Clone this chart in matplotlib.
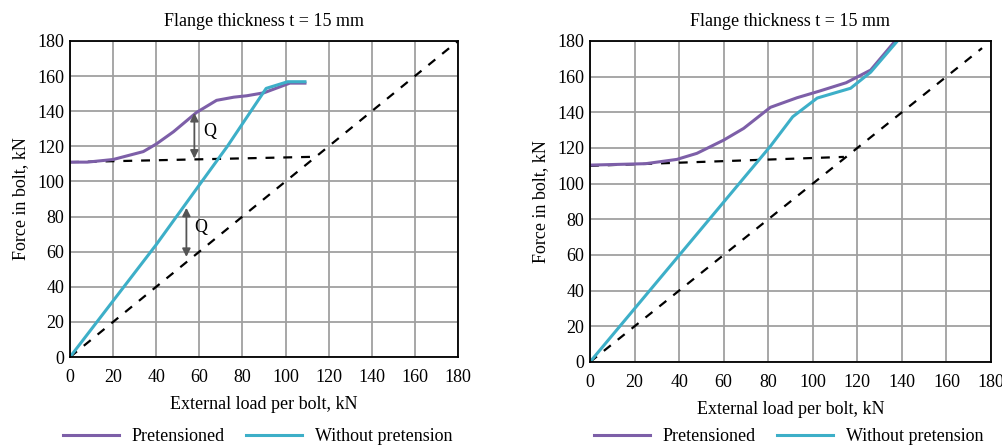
import numpy as np
import matplotlib.pyplot as plt

plt.rcParams['font.family'] = ['Liberation Serif', 'DejaVu Serif']
plt.rcParams['font.size'] = 13

# left panel data
pre_x1 = [0, 8, 20, 34, 40, 48, 58.7, 68, 76, 82, 90, 102, 109]
pre_y1 = [111, 111, 112.5, 117, 121.3, 128.3, 139.3, 146.2, 148, 148.8, 150.5, 156, 156]
nop_x1 = [0, 40, 60, 73, 91, 101, 109]
nop_y1 = [0, 64, 98, 120, 153, 156.8, 156.8]
ref_x1 = [0, 112]
ref_y1 = [111, 114]

# right panel data
pre_x2 = [0, 25, 39, 48, 60, 69, 81, 93, 103, 115, 126, 137]
pre_y2 = [110.4, 111.2, 113.6, 117, 124.4, 131, 142.8, 148.2, 151.9, 156.6, 163.7, 180]
nop_x2 = [0, 81, 91, 102, 117, 126, 138]
nop_y2 = [0, 121, 137.5, 148, 153.5, 162.5, 180]
ref_x2 = [0, 114]
ref_y2 = [110, 115]

purple = '#7D5FA8'
cyan = '#3DAFC8'

fig = plt.figure(figsize=(10.03, 4.48), dpi=100)
ax1 = fig.add_axes([0.0698, 0.2031, 0.3868, 0.7054])
ax2 = fig.add_axes([0.5882, 0.1920, 0.3998, 0.7165])


def style(ax):
    ax.set_xlim(0, 180)
    ax.set_ylim(0, 180)
    ax.set_xticks(np.arange(0, 181, 20))
    ax.set_yticks(np.arange(0, 181, 20))
    ax.grid(True, color='#A0A0A0', linewidth=1.3)
    ax.set_axisbelow(True)
    for s in ax.spines.values():
        s.set_color('black')
        s.set_linewidth(1.3)
    ax.tick_params(length=0)
    ax.tick_params(axis='x', pad=8.5)
    ax.tick_params(axis='y', pad=4)
    ax.set_title('Flange thickness t = 15 mm', fontsize=13, pad=11)
    ax.set_xlabel('External load per bolt, kN', labelpad=7)
    ax.set_ylabel('Force in bolt, kN', labelpad=6)


for ax in (ax1, ax2):
    style(ax)

ax1.plot(ref_x1, ref_y1, 'k--', lw=1.6, dashes=(4, 4))
ax1.plot([0, 180], [0, 180], 'k--', lw=1.6, dashes=(4, 4))
ax1.plot(pre_x1, pre_y1, color=purple, lw=2.2, label='Pretensioned')
ax1.plot(nop_x1, nop_y1, color=cyan, lw=2.2, label='Without pretension')

arrow = dict(arrowstyle='<|-|>', color='#555555', lw=1.3, mutation_scale=12,
             shrinkA=0, shrinkB=0)
ax1.annotate('', xy=(57.7, 139), xytext=(57.7, 113), arrowprops=arrow)
ax1.text(62, 126, 'Q', fontsize=13)
ax1.annotate('', xy=(54, 85), xytext=(54, 57), arrowprops=arrow)
ax1.text(57.5, 71, 'Q', fontsize=13)

ax2.plot(ref_x2, ref_y2, 'k--', lw=1.6, dashes=(4, 4))
ax2.plot([0, 176], [0, 176], 'k--', lw=1.6, dashes=(4, 4))
ax2.plot(pre_x2, pre_y2, color=purple, lw=2.2, label='Pretensioned')
ax2.plot(nop_x2, nop_y2, color=cyan, lw=2.2, label='Without pretension')

for ax, cx in ((ax1, 0.257), (ax2, 0.786)):
    h, l = ax.get_legend_handles_labels()
    ax.legend(h[-2:], l[-2:], loc='center', bbox_to_anchor=(cx, 0.026),
              bbox_transform=fig.transFigure,
              ncol=2, frameon=False, handlelength=3.1, columnspacing=1.2,
              handletextpad=0.7, fontsize=13, borderaxespad=0)

fig.savefig('out.png', dpi=100)
